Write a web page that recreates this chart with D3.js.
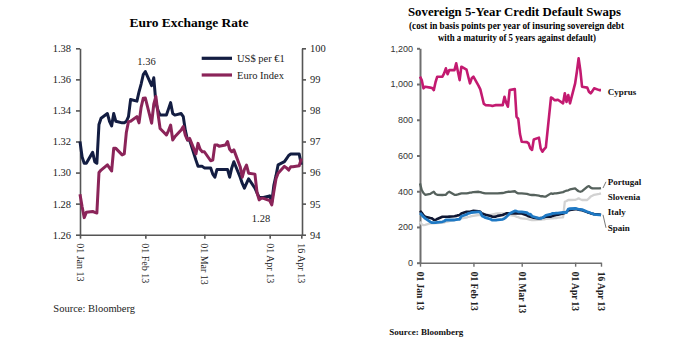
<!DOCTYPE html>
<html>
<head>
<meta charset="utf-8">
<script src="https://cdn.jsdelivr.net/npm/d3@7"></script>
<style>
body { margin: 0; background: #fff; }
</style>
</head>
<body>
<div id="chart"></div>
<script>
// business days, 01 Jan 13 - 16 Apr 13
var dates = [
  "2013-01-01","2013-01-02","2013-01-03","2013-01-04","2013-01-07","2013-01-08","2013-01-09","2013-01-10","2013-01-11",
  "2013-01-14","2013-01-15","2013-01-16","2013-01-17","2013-01-18","2013-01-21","2013-01-22","2013-01-23","2013-01-24",
  "2013-01-25","2013-01-28","2013-01-29","2013-01-30","2013-01-31",
  "2013-02-01","2013-02-04","2013-02-05","2013-02-06","2013-02-07","2013-02-08","2013-02-11","2013-02-12","2013-02-13",
  "2013-02-14","2013-02-15","2013-02-18","2013-02-19","2013-02-20","2013-02-21","2013-02-22","2013-02-25","2013-02-26",
  "2013-02-27","2013-02-28",
  "2013-03-01","2013-03-04","2013-03-05","2013-03-06","2013-03-07","2013-03-08","2013-03-11","2013-03-12","2013-03-13",
  "2013-03-14","2013-03-15","2013-03-18","2013-03-19","2013-03-20","2013-03-21","2013-03-22","2013-03-25","2013-03-26",
  "2013-03-27","2013-03-28","2013-03-29",
  "2013-04-01","2013-04-02","2013-04-03","2013-04-04","2013-04-05","2013-04-08","2013-04-09","2013-04-10","2013-04-11",
  "2013-04-12","2013-04-15","2013-04-16"
];
var tickDates = ["2013-01-01","2013-02-01","2013-03-01","2013-04-01","2013-04-16"];

// Euro exchange rate (left axis) and euro index (right axis)
var usd = [
  1.320,1.310,1.306,1.306,1.313,1.307,1.306,1.331,1.335,1.338,1.333,1.330,1.338,1.333,1.332,1.332,1.333,1.336,1.347,1.346,1.352,1.357,1.363,
  1.365,1.356,1.361,1.345,1.340,1.337,1.337,1.341,1.345,1.338,1.337,1.338,1.336,1.327,1.321,1.321,1.308,1.304,1.304,1.304,
  1.303,1.303,1.299,1.297,1.302,1.302,1.302,1.302,1.297,1.303,1.307,1.297,1.293,1.290,1.293,1.296,1.290,1.287,1.284,1.284,1.284,
  1.285,1.281,1.292,1.298,1.305,1.307,1.309,1.311,1.312,1.312,1.312,1.305
];
var euroIndex = [
  95.30,94.90,94.55,94.72,94.75,94.72,94.70,96.00,96.08,96.25,96.15,96.05,96.78,96.78,96.57,96.60,97.30,97.64,97.65,97.80,97.60,98.10,98.39,
  98.40,97.59,98.20,98.45,97.90,97.42,97.21,97.35,97.53,97.05,97.15,97.37,97.48,97.20,97.05,97.10,96.60,96.94,96.75,96.67,
  96.67,96.38,96.40,96.89,96.89,96.85,96.89,97.00,96.75,96.67,96.73,96.19,95.85,96.10,96.24,95.98,95.95,95.35,95.12,95.17,95.17,
  95.10,94.96,95.40,95.80,95.98,96.20,96.15,96.08,96.19,96.19,96.22,96.45
];
var usdTicks = [1.26, 1.28, 1.30, 1.32, 1.34, 1.36, 1.38];
var indexTicks = [94, 95, 96, 97, 98, 99, 100];

// CDS, basis points
var cyprus = [
  1041,1022,976,985,980,978,966,1010,1041,1041,1060,1088,1055,1078,1078,1116,1069,1022,1097,1080,1041,1004,1032,
  1041,990,970,930,890,882,880,877,880,882,882,882,929,895,873,966,972,817,805,720,
  677,675,668,640,631,690,700,640,621,635,645,925,920,910,910,912,892,948,900,938,892,
  1004,1069,1144,1078,985,980,957,948,960,976,966,966
];
var portugal = [
  444,407,390,380,385,392,397,385,380,379,380,380,392,397,380,380,382,385,388,388,390,392,393,
  395,397,395,392,390,388,388,388,388,388,388,390,392,395,397,397,400,392,388,388,
  388,385,382,380,379,379,375,372,372,370,370,388,385,388,388,390,395,400,403,405,410,
  416,407,400,397,400,425,429,420,416,416,416,418
];
var slovenia = [
  230,215,210,212,220,220,220,222,222,224,225,228,230,232,239,240,243,245,248,252,257,258,260,
  262,267,267,267,267,267,267,270,272,274,276,276,272,267,267,267,262,257,255,250,
  248,245,243,240,239,239,240,240,243,243,245,248,248,250,250,252,254,341,345,351,351,
  352,355,360,355,351,351,360,370,375,380,385,388
];
var italy = [
  290,279,265,257,250,248,240,239,245,257,257,257,257,258,260,262,265,267,275,285,285,285,288,
  290,288,285,275,272,268,261,257,257,258,262,267,272,276,276,276,276,276,276,276,
  275,265,260,257,255,252,248,250,252,255,257,258,262,265,267,268,275,278,285,292,295,
  299,299,297,295,293,283,280,276,274,272,270,267
];
var spain = [
  278,268,257,248,228,224,224,224,226,229,232,239,239,239,239,241,243,243,260,270,276,278,281,
  282,285,282,262,257,252,243,238,238,238,240,243,248,255,265,275,290,288,285,285,
  285,280,272,272,260,257,248,248,252,257,265,272,276,276,277,278,281,281,281,300,302,
  304,302,299,299,297,285,282,278,275,270,268,268
];
var cdsTicks = [0, 200, 400, 600, 800, 1000, 1200];

var parse = d3.timeParse("%Y-%m-%d");
var days = dates.map(parse);
var ticks = tickDates.map(parse);
var fmtDate = d3.timeFormat("%d %b %y");
var serif = "'Liberation Serif', 'Times New Roman', serif";
var sans = "'Liberation Sans', Arial, sans-serif";

var svg = d3.select("#chart").append("svg")
    .attr("width", 692)
    .attr("height", 338);
svg.append("rect").attr("width", 692).attr("height", 338).attr("fill", "#fff");

// ---------- Euro Exchange Rate ----------
var x1 = d3.scaleTime().domain([days[0], days[days.length - 1]]).range([80, 301.3]);
var yL = d3.scaleLinear().domain([1.26, 1.38]).range([234.7, 48.3]);
var yR = d3.scaleLinear().domain([94, 100]).range([234.7, 48.3]);

var left = svg.append("g");

left.append("text")
    .attr("x", 189).attr("y", 26.5)
    .attr("text-anchor", "middle")
    .style("font-family", serif).style("font-weight", "bold").style("font-size", "13.5px")
    .text("Euro Exchange Rate");

function styleAxis(g, color, width, font, size, weight) {
    g.select(".domain").attr("stroke", color).attr("stroke-width", width);
    g.selectAll(".tick line").attr("stroke", color).attr("stroke-width", width);
    g.selectAll("text")
        .style("font-family", font).style("font-size", size)
        .style("font-weight", weight).attr("fill", "#222");
}

var gL = left.append("g").attr("transform", "translate(80,0)")
    .call(d3.axisLeft(yL).tickValues(usdTicks).tickFormat(d3.format(".2f")).tickSize(4).tickSizeOuter(0).tickPadding(5));
styleAxis(gL, "#555", 1.6, serif, "10.5px", "normal");

var gR = left.append("g").attr("transform", "translate(302,0)")
    .call(d3.axisRight(yR).tickValues(indexTicks).tickFormat(d3.format("d")).tickSize(4).tickSizeOuter(0).tickPadding(4));
styleAxis(gR, "#555", 1.6, serif, "10.5px", "normal");

var gB = left.append("g").attr("transform", "translate(0,234.7)")
    .call(d3.axisBottom(x1).tickValues(ticks).tickFormat(fmtDate).tickSize(4).tickSizeOuter(0));
styleAxis(gB, "#555", 1.6, serif, "10px", "normal");
gB.selectAll("text")
    .attr("transform", "rotate(90)")
    .attr("x", 8.5).attr("y", 0).attr("dy", "0.35em")
    .style("text-anchor", "start");

var lineUsd = d3.line().x(function(d, i) { return x1(days[i]); }).y(function(d) { return yL(d); });
var lineIdx = d3.line().x(function(d, i) { return x1(days[i]); }).y(function(d) { return yR(d); });

left.append("path").datum(usd)
    .attr("d", lineUsd).attr("fill", "none")
    .attr("stroke", "#131d42").attr("stroke-width", 3).attr("stroke-linejoin", "round");
left.append("path").datum(euroIndex)
    .attr("d", lineIdx).attr("fill", "none")
    .attr("stroke", "#8b2459").attr("stroke-width", 3).attr("stroke-linejoin", "round");

// legend
var legend = [["US$ per \u20ac1", "#131d42"], ["Euro Index", "#8b2459"]];
legend.forEach(function(l, i) {
    var yy = 58.3 + i * 16.7;
    left.append("line").attr("x1", 201.7).attr("x2", 232).attr("y1", yy).attr("y2", yy)
        .attr("stroke", l[1]).attr("stroke-width", 3.2);
    left.append("text").attr("x", 237).attr("y", yy + 3.6)
        .style("font-family", serif).style("font-size", "10.5px").attr("fill", "#222")
        .text(l[0]);
});

// high / low notes
left.append("text").attr("x", 146.5).attr("y", 65)
    .attr("text-anchor", "middle")
    .style("font-family", serif).style("font-size", "10.5px").attr("fill", "#222")
    .text("1.36");
left.append("text").attr("x", 261).attr("y", 221.5)
    .attr("text-anchor", "middle")
    .style("font-family", serif).style("font-size", "10.5px").attr("fill", "#222")
    .text("1.28");

left.append("text").attr("x", 53.3).attr("y", 312)
    .style("font-family", serif).style("font-size", "10.5px").attr("fill", "#222")
    .text("Source: Bloomberg");

// ---------- Sovereign CDS ----------
var x2 = d3.scaleTime().domain([days[0], days[days.length - 1]]).range([420, 601]);
var y2 = d3.scaleLinear().domain([0, 1200]).range([262.7, 48.3]);

var right = svg.append("g");

right.append("text").attr("x", 514.5).attr("y", 16)
    .attr("text-anchor", "middle")
    .attr("textLength", 213).attr("lengthAdjust", "spacingAndGlyphs")
    .style("font-family", serif).style("font-weight", "bold").style("font-size", "13px")
    .text("Sovereign  5-Year Credit Default Swaps");
right.append("text").attr("x", 516.5).attr("y", 29)
    .attr("text-anchor", "middle")
    .attr("textLength", 215).attr("lengthAdjust", "spacingAndGlyphs")
    .style("font-family", serif).style("font-weight", "bold").style("font-size", "10px")
    .text("(cost in basis points per year of insuring sovereign debt");
right.append("text").attr("x", 517).attr("y", 41)
    .attr("text-anchor", "middle")
    .attr("textLength", 158).attr("lengthAdjust", "spacingAndGlyphs")
    .style("font-family", serif).style("font-weight", "bold").style("font-size", "10px")
    .text("with a maturity of 5 years against default)");

var gY2 = right.append("g").attr("transform", "translate(420,0)")
    .call(d3.axisLeft(y2).tickValues(cdsTicks).tickFormat(d3.format(",")).tickSize(3).tickSizeOuter(0).tickPadding(4));
styleAxis(gY2, "#6e6e6e", 2, sans, "9px", "normal");
gY2.selectAll("text").attr("fill", "#333");

var gX2 = right.append("g").attr("transform", "translate(0,262.7)")
    .call(d3.axisBottom(x2).tickValues(ticks).tickFormat(fmtDate).tickSize(4).tickSizeOuter(0));
styleAxis(gX2, "#6e6e6e", 1.4, serif, "9.5px", "bold");
gX2.selectAll("text")
    .attr("transform", "rotate(90)")
    .attr("x", 9).attr("y", 0).attr("dy", "0.35em")
    .style("text-anchor", "start");

var cds = [
    {name: "Portugal", values: portugal, color: "#56625d", width: 2.3, labelY: 184.8, leader: true},
    {name: "Slovenia", values: slovenia, color: "#d2d2d2", width: 2.3, labelY: 200.3, leader: false},
    {name: "Italy", values: italy, color: "#0f1733", width: 2.6, labelY: 215.4, leader: false},
    {name: "Spain", values: spain, color: "#1f79c4", width: 2.8, labelY: 230.8, leader: true},
    {name: "Cyprus", values: cyprus, color: "#c31a70", width: 2.6, labelY: 94.8, leader: false}
];

var lineCds = d3.line().x(function(d, i) { return x2(days[i]); }).y(function(d) { return y2(d); });

cds.forEach(function(s) {
    right.append("path").datum(s.values)
        .attr("d", lineCds).attr("fill", "none")
        .attr("stroke", s.color).attr("stroke-width", s.width).attr("stroke-linejoin", "round");
});

cds.forEach(function(s) {
    var last = s.values[s.values.length - 1];
    if (s.leader) {
        right.append("line")
            .attr("x1", x2(days[days.length - 1]) + 2).attr("y1", y2(last))
            .attr("x2", 606).attr("y2", s.labelY - 3)
            .attr("stroke", "#555").attr("stroke-width", 0.8);
    }
    right.append("text").attr("x", 607.7).attr("y", s.labelY)
        .style("font-family", serif).style("font-weight", "bold").style("font-size", "9px")
        .attr("fill", "#111")
        .text(s.name);
});

right.append("text").attr("x", 389.3).attr("y", 335)
    .style("font-family", serif).style("font-weight", "bold").style("font-size", "9px")
    .attr("fill", "#111")
    .text("Source: Bloomberg");
</script>
</body>
</html>
